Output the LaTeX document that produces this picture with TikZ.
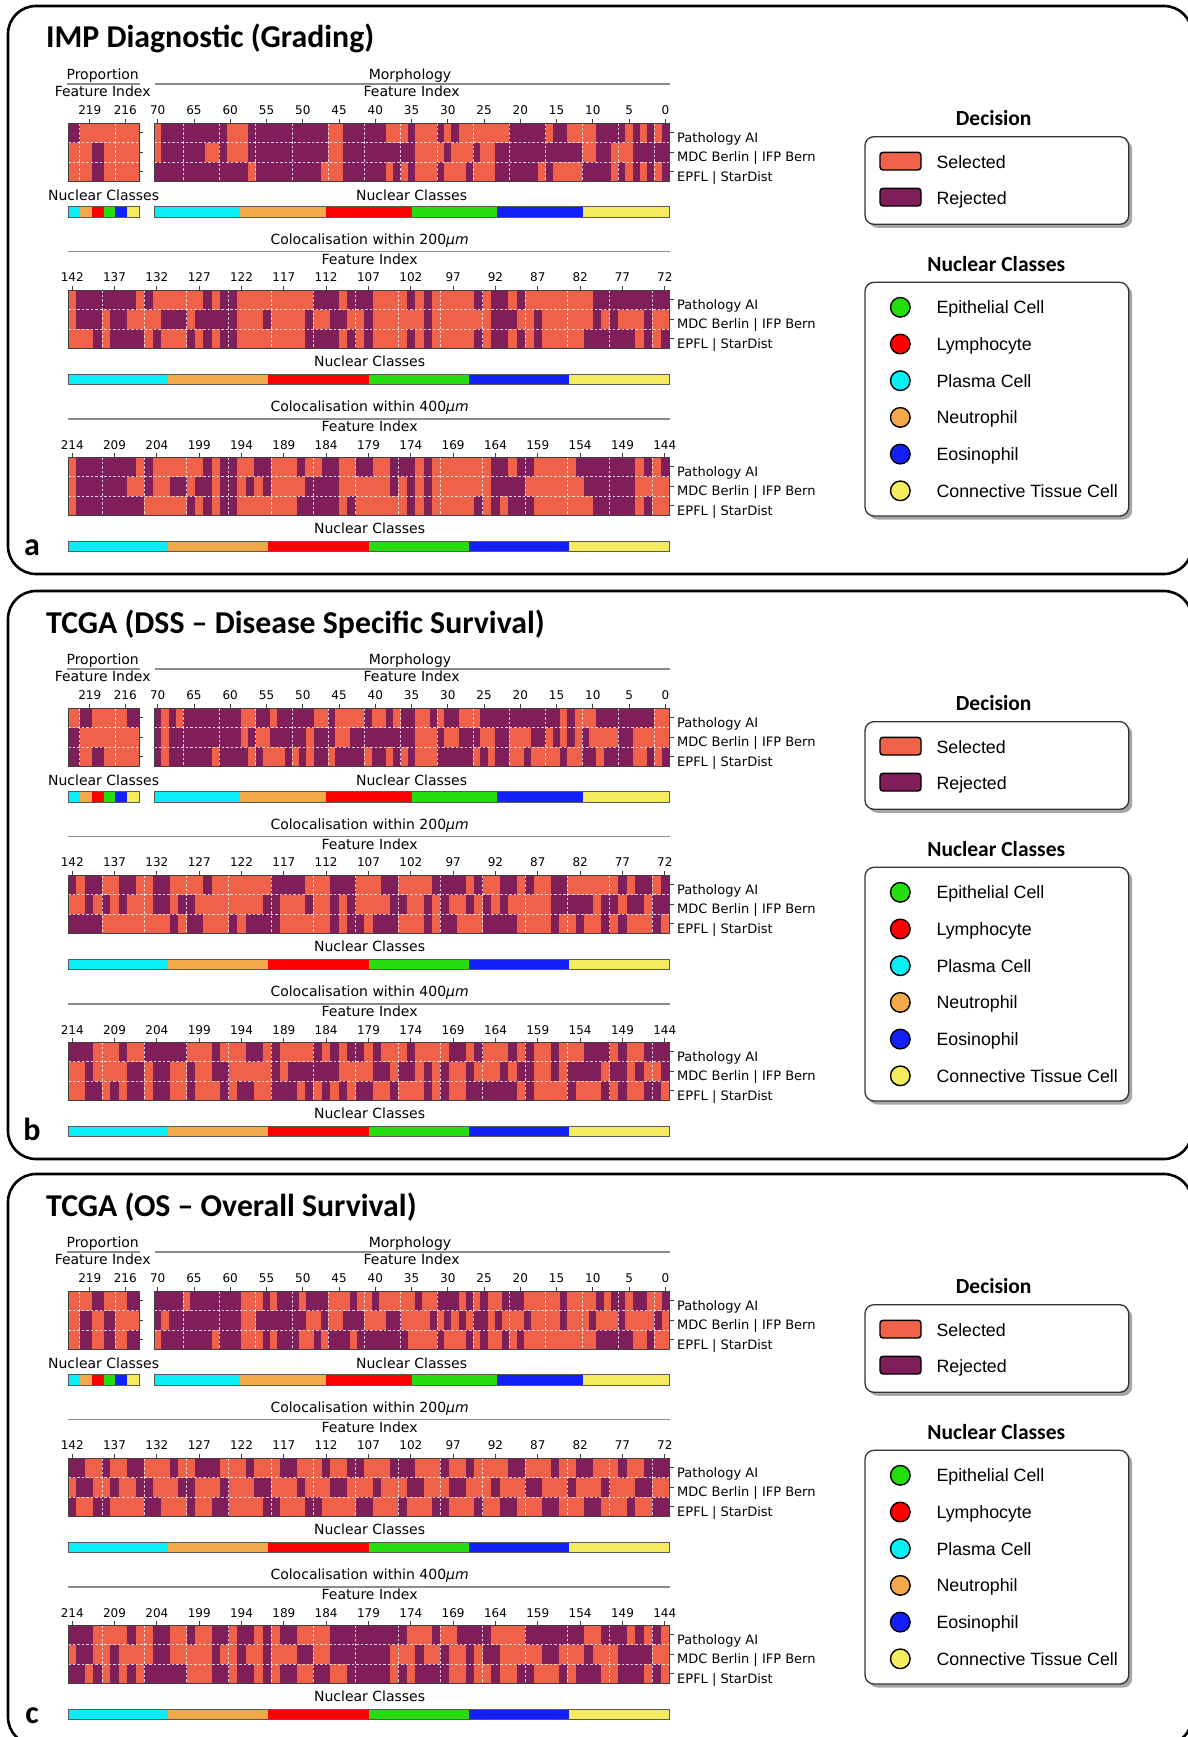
\documentclass[tikz,border=0pt]{standalone}
\usepackage{fontspec}
\setmainfont{DejaVu Sans}
\newfontfamily\calibrifont{Carlito}
\newfontfamily\arialfont{Liberation Sans}

\definecolor{selcol}{HTML}{EF6148}
\definecolor{rejcol}{HTML}{801E5A}
\definecolor{nccyan}{HTML}{08EEF4}
\definecolor{ncorange}{HTML}{F2A94A}
\definecolor{ncred}{HTML}{FE0000}
\definecolor{ncgreen}{HTML}{26DE0E}
\definecolor{ncblue}{HTML}{1320FA}
\definecolor{ncyellow}{HTML}{F5EB5E}
\definecolor{rulegray}{HTML}{8C8C8C}

\tikzset{
  panelbox/.style={draw=black, line width=2.6pt, rounded corners=28pt},
  paneltitle/.style={font=\calibrifont\bfseries\fontsize{31.8}{36}\selectfont, inner sep=0pt, anchor=base west},
  panelletter/.style={font=\calibrifont\bfseries\fontsize{32}{36}\selectfont, inner sep=0pt, anchor=base},
  headtext/.style={font=\fontsize{14}{16}\selectfont, inner sep=0pt, anchor=base},
  ticktext/.style={font=\fontsize{12}{14}\selectfont, inner sep=0pt, anchor=base},
  rowtext/.style={font=\fontsize{13}{15}\selectfont, inner sep=0pt, anchor=base west},
  hmgrid/.style={draw=white, draw opacity=0.8, line width=0.7pt, dash pattern=on 2.5pt off 2pt},
  hmborder/.style={draw=black!75, line width=0.9pt},
  barborder/.style={draw=black!65, line width=0.9pt},
  secline/.style={draw=rulegray, line width=1.4pt},
  tickmark/.style={draw=black!75, line width=0.8pt},
  legtitle/.style={font=\calibrifont\bfseries\fontsize{21.5}{24}\selectfont, inner sep=0pt, anchor=base},
  legbox/.style={draw=black!80, line width=1.3pt, fill=white, rounded corners=9pt},
  legshadow/.style={fill=black!35, rounded corners=9pt},
  legtext/.style={font=\arialfont\fontsize{17.8}{20}\selectfont, inner sep=0pt, anchor=base west},
  swatch/.style={draw=black, line width=1.4pt, rounded corners=3pt},
  classdot/.style={circle, draw=black, line width=1.4pt, minimum size=19.6pt, inner sep=0pt}
}

% one heatmap row: x0, top, cell width, cells, rejected runs
\newcommand{\hmrow}[5]{%
  \fill[selcol] (#1,#2) rectangle ({#1+#4*#3},{#2+19.5});
  \foreach \a/\b in {#5} {\fill[rejcol] ({#1+\a*#3},#2) rectangle ({#1+\b*#3},{#2+19.5});}}
\newcommand{\proprow}[2]{\hmrow{68}{#1}{11.833}{6}{#2}}
\newcommand{\morphrow}[2]{\hmrow{154.1}{#1}{7.252}{71}{#2}}
\newcommand{\colrow}[2]{\hmrow{68}{#1}{8.465}{71}{#2}}

% grid, frame and right ticks of a heatmap
\newcommand{\hmgridbox}[5]{%
  \foreach \g in {#5} {\draw[hmgrid] ({#1+\g*#3},#2) -- ({#1+\g*#3},{#2+58.5});}
  \foreach \r in {1,2} {\draw[hmgrid] (#1,{#2+\r*19.5}) -- ({#1+#4*#3},{#2+\r*19.5});}
  \draw[hmborder] (#1,#2) rectangle ({#1+#4*#3},{#2+58.5});
  \foreach \r in {0,1,2} {\draw[tickmark] ({#1+#4*#3},{#2+9.75+\r*19.5}) -- ++(4.5,0);}}

\newcommand{\classbar}[3]{%
  \foreach \c [count=\i from 0] in {nccyan,ncorange,ncred,ncgreen,ncblue,ncyellow}
    {\fill[\c] ({#1+\i*#3},#2) rectangle ({#1+(\i+1)*#3},{#2+10.5});}
  \draw[barborder] (#1,#2) rectangle ({#1+6*#3},{#2+10.5});}

\newcommand{\rowlabels}[1]{%
  \node[rowtext] (pai) at (677,{#1+19.4}) {Pathology AI};
  \node[rowtext] (mdc) at (677,{#1+38.9}) {MDC Berlin | IFP Bern};
  \node[rowtext] (epfl) at (677,{#1+58.4}) {EPFL | StarDist};}

\newcommand{\legendpanel}{%
  \node[legtitle] (dectitle) at (993.7,125.2) {Decision};
  \fill[legshadow] (868.5,140.2) rectangle (1132.2,227.8);
  \draw[legbox] (865,136.7) rectangle (1128.7,224.3);
  \draw[swatch, fill=selcol] (880,152.3) rectangle (921,170);
  \node[legtext] (seltext) at (936.3,168.1) {Selected};
  \draw[swatch, fill=rejcol] (880,188.3) rectangle (921,206);
  \node[legtext] (rejtext) at (936.3,204.1) {Rejected};
  \node[legtitle] (nctitle) at (996.3,271.4) {Nuclear Classes};
  \fill[legshadow] (868.5,285.8) rectangle (1132.2,519.5);
  \draw[legbox] (865,282.3) rectangle (1128.7,516);
  \foreach \c/\t [count=\k from 0] in {ncgreen/Epithelial Cell, ncred/Lymphocyte,
      nccyan/Plasma Cell, ncorange/Neutrophil, ncblue/Eosinophil, ncyellow/Connective Tissue Cell}
    {\node[classdot, fill=\c] (dot\k) at (900.3,{307.3+36.7*\k}) {};
     \node[legtext] (cls\k) at (936.3,{313.7+36.7*\k}) {\t};}}

\newcommand{\panelframe}[3]{%
  \draw[panelbox] (8,6) rectangle (1192,#3);
  \node[paneltitle] (title) at (46,48) {#1};
  \node[panelletter] (letter) at (32,555) {#2};
  % proportion and morphology
  \node[headtext] (prophead) at (102.7,79) {Proportion};
  \node[headtext] (morphhead) at (410,79) {Morphology};
  \draw[secline] (67,84) -- (140,84);
  \draw[secline] (154.5,84) -- (670,84);
  \node[headtext] (propidx) at (102.7,96.8) {Feature Index};
  \node[headtext] (morphidx) at (411.6,96.8) {Feature Index};
  \foreach \i/\c in {219/1,216/4}
    {\node[ticktext] (p\i) at ({72+(\c+0.5)*11.833},114.4) {\i};
     \draw[tickmark] ({72+(\c+0.5)*11.833},118.5) -- ++(0,4.5);}
  \foreach \i in {0,5,...,70}
    {\node[ticktext] (m\i) at ({154.1+(70.5-\i)*7.252},114.4) {\i};
     \draw[tickmark] ({154.1+(70.5-\i)*7.252},118.5) -- ++(0,4.5);}
  \hmgridbox{68}{123}{11.833}{6}{1,4}
  \hmgridbox{154.1}{123}{7.252}{71}{4,9,...,69}
  \rowlabels{123}
  \node[headtext] (propcls) at (103.6,200) {Nuclear Classes};
  \node[headtext] (morphcls) at (411.6,200) {Nuclear Classes};
  \classbar{68}{206.5}{11.833}
  \classbar{154.1}{206.5}{85.82}
  % colocalisation 200
  \node[headtext] (coltwo) at (369.6,244) {Colocalisation within 200\textit{μm}};
  \draw[secline] (68,251.7) -- (670,251.7);
  \node[headtext] (coltwoidx) at (369.6,264) {Feature Index};
  \foreach \i in {72,77,...,142}
    {\node[ticktext] (c\i) at ({68+(142.5-\i)*8.465},281.7) {\i};
     \draw[tickmark] ({68+(142.5-\i)*8.465},285.5) -- ++(0,4.5);}
  \hmgridbox{68}{290}{8.465}{71}{4,9,...,69}
  \rowlabels{290}
  \node[headtext] (coltwocls) at (369.6,366.7) {Nuclear Classes};
  \classbar{68}{374}{100.17}
  % colocalisation 400
  \node[headtext] (colfour) at (369.6,411) {Colocalisation within 400\textit{μm}};
  \draw[secline] (68,419) -- (670,419);
  \node[headtext] (colfouridx) at (369.6,431) {Feature Index};
  \foreach \i in {144,149,...,214}
    {\node[ticktext] (c\i) at ({68+(214.5-\i)*8.465},449.4) {\i};
     \draw[tickmark] ({68+(214.5-\i)*8.465},452.5) -- ++(0,4.5);}
  \hmgridbox{68}{457}{8.465}{71}{4,9,...,69}
  \rowlabels{457}
  \node[headtext] (colfourcls) at (369.6,533) {Nuclear Classes};
  \classbar{68}{541}{100.17}
  \legendpanel}

\begin{document}
\begin{tikzpicture}[x=1pt,y=-1pt]
  \useasboundingbox (0,0) rectangle (1188,1737);
  \clip (0,0) rectangle (1188,1737);
  \fill[white] (0,0) rectangle (1188,1737);
  % panel a
  \begin{scope}
    \proprow{123}{0/1} \proprow{142.5}{2/3} \proprow{162}{2/3}
    \morphrow{123}{1/10,13/24,26/32,35/36,39/40,41/42,49/54,55/57,61/65,66/67,68/69,70/71}
    \morphrow{142.5}{1/7,9/10,13/24,26/36,40/41,44/45,47/59,61/63,66/71}
    \morphrow{162}{0/13,14/23,26/32,33/34,35/36,39/40,43/44,47/53,54/55,59/63,64/65,66/67,68/69,70/71}
    \colrow{290}{1/8,9/10,16/17,18/20,29/32,33/36,40/41,42/43,48/49,50/52,53/54,62/71}
    \colrow{309.5}{1/4,5/7,11/14,15/20,23/24,28/29,31/33,35/36,42/43,50/53,55/56,62/63,64/65,68/69}
    \colrow{329}{3/4,5/9,10/11,14/15,16/17,18/20,28/32,33/34,35/36,40/41,42/43,48/49,50/52,53/54,55/56,61/67,68/69,70/71}
    \colrow{457}{1/8,9/10,16/17,18/20,22/24,27/28,30/32,34/36,38/41,42/43,50/52,53/55,60/67,68/69,70/71}
    \colrow{476.5}{1/7,9/10,12/14,15/17,18/20,21/22,23/24,28/32,38/39,40/41,42/43,50/54,61/67}
    \colrow{496}{1/9,14/15,16/17,18/20,27/32,33/34,40/41,42/43,48/49,50/51,52/55,62/67,68/69}
    \panelframe{IMP Diagnostic (Grading)}{a}{574}
  \end{scope}
  % panel b
  \begin{scope}[yshift=-585pt]
    \proprow{123}{1/2,5/6} \proprow{142.5}{0/1} \proprow{162}{0/1,2/3}
    \morphrow{123}{0/1,2/3,4/12,14/16,17/22,24/25,29/30,32/33,34/36,38/39,40/42,45/56,57/58,61/69}
    \morphrow{142.5}{0/1,2/12,13/14,16/21,22/25,27/36,39/40,42/45,47/49,52/54,55/56,57/58,59/60,64/66}
    \morphrow{162}{0/1,2/8,9/13,14/15,18/19,20/21,22/24,25/29,30/32,33/34,35/36,39/44,45/46,47/49,51/52,56/57,59/61,62/66,68/69,70/71}
    \colrow{290}{0/1,2/4,6/8,10/12,16/17,24/28,31/34,37/39,43/47,48/49,51/53,54/55,57/59,65/66,67/69,70/71}
    \colrow{309.5}{2/3,4/5,6/7,10/12,13/15,23/25,28/29,31/32,33/34,38/40,42/43,44/45,47/48,49/50,51/52,57/62,63/65,66/68,69/71}
    \colrow{329}{0/4,12/13,14/16,19/20,21/25,31/32,33/35,36/39,42/43,44/46,49/53,57/58,60/61,63/64,65/66,69/70}
    \colrow{457}{0/3,6/7,9/14,17/18,21/23,24/25,29/30,31/32,33/35,36/37,40/41,45/47,48/49,52/53,54/55,57/58,61/64,65/66,68/71}
    \colrow{476.5}{2/3,7/9,10/12,14/15,17/19,24/25,26/32,36/38,39/41,42/43,44/45,47/48,51/52,53/55,57/58,59/63,64/66,67/68,70/71}
    \colrow{496}{2/4,5/6,7/9,10/12,14/15,18/19,20/22,24/27,28/29,30/31,32/33,34/36,38/39,42/43,44/45,47/53,54/55,59/60,63/64,65/66,68/70}
    \panelframe{TCGA (DSS – Disease Specific Survival)}{b}{574}
  \end{scope}
  % panel c
  \begin{scope}[yshift=-1168pt]
    \proprow{123}{2/3,5/6} \proprow{142.5}{1/2,3/4} \proprow{162}{1/2,3/4,5/6}
    \morphrow{123}{0/4,5/12,15/16,17/20,21/24,27/28,30/31,36/37,39/42,43/44,45/46,48/51,56/57,61/62,63/65,66/68,70/71}
    \morphrow{142.5}{0/1,2/12,14/21,23/24,26/29,32/34,38/39,40/41,42/43,44/46,47/48,51/52,56/57,60/61,64/65,69/70}
    \morphrow{162}{1/8,9/12,15/16,17/20,22/23,24/27,28/35,39/40,43/44,45/46,48/49,50/51,61/66,68/69}
    \colrow{290}{0/2,4/5,7/9,12/13,15/18,21/22,25/27,30/31,33/35,38/41,44/45,47/48,52/54,57/58,60/62,65/66,68/71}
    \colrow{309.5}{1/3,5/6,8/10,13/15,18/19,22/24,27/28,31/33,36/37,40/42,45/47,50/51,54/56,59/60,63/64,67/69}
    \colrow{329}{0/1,3/5,9/11,14/15,17/19,23/25,28/30,34/36,39/40,43/45,48/49,51/53,56/58,61/63,66/67,69/71}
    \colrow{457}{0/3,7/8,10/12,14/15,17/19,20/22,23/24,25/27,31/40,43/44,46/50,54/61,63/66,67/68,69/70}
    \colrow{476.5}{1/3,5/6,10/12,17/18,20/21,23/24,27/29,31/38,41/42,44/45,47/48,49/51,56/58,61/62,65/69}
    \colrow{496}{0/2,3/4,5/6,7/8,9/14,17/19,20/22,23/24,25/27,29/31,33/38,39/40,41/45,47/48,50/51,53/55,58/59,60/63,65/68,69/70}
    \panelframe{TCGA (OS – Overall Survival)}{c}{577}
  \end{scope}
\end{tikzpicture}
\end{document}
